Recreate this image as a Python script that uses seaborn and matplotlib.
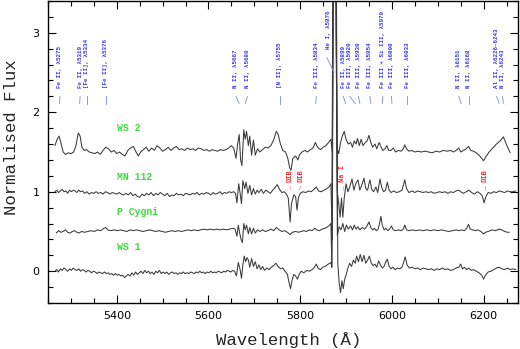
import numpy as np
import pandas as pd
import matplotlib
matplotlib.use("Agg")
import matplotlib.pyplot as plt
from matplotlib.ticker import MultipleLocator
import seaborn as sns

# ---------------- data ----------------
WS2_WAVE = [5265, 5270, 5274, 5278, 5283, 5288, 5294, 5300, 5306, 5311, 5316, 5320, 5324, 5329, 5334,
            5340, 5346, 5352, 5358, 5364, 5370, 5376, 5382, 5388, 5394, 5400, 5406, 5412, 5418, 5424,
            5430, 5436, 5442, 5447, 5452, 5458, 5464, 5470, 5476, 5482, 5488, 5494, 5500, 5506, 5512,
            5518, 5524, 5530, 5536, 5542, 5548, 5554, 5560, 5566, 5572, 5578, 5584, 5590, 5596, 5602,
            5608, 5614, 5620, 5626, 5632, 5638, 5644, 5650, 5655, 5660, 5664, 5667, 5670, 5673, 5677,
            5680, 5683, 5687, 5690, 5694, 5698, 5702, 5707, 5712, 5718, 5724, 5730, 5736, 5742, 5748,
            5752, 5757, 5762, 5768, 5773, 5777, 5780, 5784, 5790, 5795, 5798, 5804, 5810, 5816, 5822,
            5828, 5833, 5838, 5844, 5850, 5856, 5862, 5867, 5870, 5872, 5874, 5876, 5878, 5880, 5884,
            5888, 5892, 5896, 5900, 5905, 5910, 5914, 5918, 5922, 5925, 5929, 5933, 5937, 5942, 5946,
            5950, 5954, 5958, 5963, 5967, 5972, 5976, 5980, 5985, 5989, 5993, 5998, 6003, 6008, 6014,
            6020, 6025, 6028, 6032, 6037, 6043, 6050, 6057, 6064, 6072, 6080, 6088, 6096, 6104, 6112,
            6120, 6128, 6134, 6140, 6146, 6150, 6156, 6162, 6167, 6172, 6178, 6184, 6190, 6196, 6200,
            6205, 6212, 6220, 6228, 6236, 6243, 6248, 6253, 6258]
WS2_FLUX = [1.58, 1.66, 1.70, 1.62, 1.50, 1.47, 1.49, 1.48, 1.50, 1.58, 1.74, 1.70, 1.56, 1.52, 1.53,
            1.50, 1.49, 1.48, 1.50, 1.47, 1.52, 1.56, 1.54, 1.50, 1.52, 1.48, 1.50, 1.47, 1.45, 1.52,
            1.55, 1.57, 1.50, 1.45, 1.50, 1.53, 1.56, 1.51, 1.55, 1.52, 1.58, 1.55, 1.51, 1.53, 1.56,
            1.52, 1.55, 1.57, 1.53, 1.54, 1.52, 1.55, 1.53, 1.54, 1.52, 1.55, 1.54, 1.52, 1.53, 1.51,
            1.53, 1.52, 1.51, 1.53, 1.52, 1.53, 1.55, 1.58, 1.55, 1.42, 1.62, 1.72, 1.40, 1.33, 1.78,
            1.66, 1.76, 1.58, 1.70, 1.46, 1.65, 1.46, 1.54, 1.50, 1.53, 1.56, 1.55, 1.58, 1.65, 1.76,
            1.72, 1.60, 1.52, 1.50, 1.42, 1.30, 1.27, 1.42, 1.45, 1.40, 1.46, 1.50, 1.52, 1.50, 1.53,
            1.55, 1.62, 1.56, 1.53, 1.56, 1.58, 1.62, 1.66, 1.50, 3.60, 3.60, 3.60, 3.60, 1.55, 1.48,
            1.62, 1.70, 1.76, 1.66, 1.60, 1.62, 1.56, 1.64, 1.60, 1.67, 1.58, 1.66, 1.58, 1.62, 1.64,
            1.71, 1.62, 1.56, 1.60, 1.54, 1.62, 1.57, 1.52, 1.54, 1.58, 1.52, 1.52, 1.55, 1.50, 1.52,
            1.51, 1.54, 1.59, 1.54, 1.51, 1.52, 1.50, 1.51, 1.50, 1.51, 1.50, 1.49, 1.51, 1.50, 1.52,
            1.51, 1.52, 1.50, 1.52, 1.55, 1.50, 1.52, 1.54, 1.57, 1.52, 1.51, 1.49, 1.46, 1.42, 1.39,
            1.44, 1.50, 1.55, 1.60, 1.64, 1.69, 1.62, 1.55, 1.49]

MN112_WAVE = [5265, 5269, 5273, 5277, 5281, 5285, 5289, 5293, 5297, 5301, 5305, 5309, 5313, 5317, 5321,
              5325, 5330, 5335, 5340, 5345, 5350, 5355, 5360, 5365, 5370, 5375, 5380, 5385, 5390, 5395,
              5400, 5405, 5410, 5415, 5420, 5425, 5430, 5435, 5440, 5445, 5450, 5455, 5460, 5465, 5470,
              5475, 5480, 5485, 5490, 5495, 5500, 5505, 5510, 5515, 5520, 5525, 5530, 5535, 5540, 5545,
              5550, 5555, 5560, 5565, 5570, 5575, 5580, 5585, 5590, 5595, 5600, 5605, 5610, 5615, 5620,
              5625, 5630, 5635, 5640, 5645, 5650, 5655, 5659, 5662, 5666, 5669, 5672, 5675, 5679, 5682,
              5686, 5690, 5694, 5698, 5702, 5706, 5710, 5715, 5720, 5725, 5730, 5735, 5740, 5745, 5750,
              5755, 5760, 5765, 5770, 5774, 5778, 5781, 5786, 5790, 5793, 5796, 5800, 5806, 5812, 5818,
              5824, 5830, 5835, 5840, 5846, 5852, 5858, 5863, 5867, 5870, 5872, 5874, 5876, 5878, 5881,
              5884, 5887, 5890, 5893, 5896, 5900, 5904, 5908, 5913, 5917, 5921, 5926, 5930, 5934, 5939,
              5943, 5947, 5952, 5956, 5960, 5965, 5969, 5974, 5978, 5982, 5986, 5990, 5994, 5998, 6004,
              6010, 6016, 6022, 6028, 6032, 6037, 6044, 6050, 6056, 6062, 6068, 6074, 6080, 6086, 6092,
              6098, 6104, 6110, 6116, 6122, 6128, 6134, 6140, 6146, 6150, 6156, 6162, 6168, 6174, 6180,
              6186, 6192, 6197, 6201, 6205, 6210, 6216, 6222, 6228, 6234, 6240, 6246, 6252, 6258, 6264,
              6270]
MN112_FLUX = [1.00, 1.02, 0.99, 1.01, 1.03, 1.00, 1.01, 0.98, 1.02, 1.00, 1.02, 1.01, 0.99, 1.02, 1.00,
              1.01, 0.98, 1.00, 0.97, 0.99, 0.98, 1.00, 0.98, 0.99, 0.97, 1.00, 0.99, 0.97, 0.99, 0.98,
              0.97, 0.99, 0.97, 0.96, 0.98, 0.96, 0.99, 0.95, 0.97, 0.94, 0.93, 0.97, 0.95, 0.98, 0.96,
              0.99, 0.95, 0.98, 0.96, 0.99, 0.97, 0.95, 0.98, 0.94, 0.96, 0.95, 0.98, 0.96, 0.97, 0.95,
              0.98, 0.97, 0.96, 0.98, 0.97, 0.99, 0.96, 0.98, 0.97, 0.99, 0.98, 0.96, 0.99, 0.97, 0.98,
              1.00, 0.97, 0.99, 0.98, 1.00, 0.99, 1.00, 0.98, 0.86, 1.10, 0.98, 0.85, 1.14, 1.04, 1.12,
              0.98, 1.08, 0.96, 1.04, 0.97, 1.02, 0.99, 1.03, 0.98, 1.02, 1.00, 0.98, 1.02, 1.05, 1.09,
              1.03, 0.99, 1.00, 0.97, 0.92, 0.62, 0.85, 0.96, 0.94, 0.77, 0.92, 0.98, 1.00, 0.99, 1.01,
              1.00, 1.03, 1.06, 1.01, 1.00, 1.02, 1.04, 1.06, 1.10, 0.40, 3.60, 3.60, 3.60, 3.60, 1.00,
              0.85, 0.68, 0.92, 0.68, 0.92, 1.10, 1.00, 1.06, 1.16, 1.02, 1.10, 1.15, 1.02, 1.08, 1.17,
              1.04, 1.02, 1.15, 1.03, 1.00, 1.06, 0.99, 1.16, 1.05, 1.00, 1.02, 1.12, 1.02, 0.99, 1.01,
              0.99, 1.00, 1.02, 1.15, 1.04, 0.99, 1.01, 0.99, 1.01, 1.00, 0.99, 1.00, 0.99, 1.00, 0.98,
              0.99, 1.00, 0.99, 1.00, 0.98, 1.00, 0.99, 1.01, 1.02, 1.00, 0.98, 1.00, 1.02, 0.99, 0.97,
              1.00, 0.98, 0.95, 0.86, 0.94, 0.99, 0.98, 1.00, 0.99, 1.01, 1.00, 0.99, 1.01, 1.00, 1.00,
              1.01]

PCYG_WAVE = [5268, 5273, 5278, 5283, 5288, 5293, 5298, 5303, 5308, 5313, 5318, 5323, 5330, 5337, 5344,
             5351, 5358, 5365, 5372, 5376, 5380, 5387, 5394, 5401, 5408, 5415, 5422, 5429, 5436, 5443,
             5450, 5457, 5464, 5471, 5478, 5485, 5492, 5499, 5506, 5513, 5520, 5527, 5534, 5541, 5548,
             5555, 5562, 5569, 5576, 5583, 5590, 5597, 5604, 5611, 5618, 5625, 5632, 5639, 5646, 5653,
             5658, 5662, 5665, 5668, 5671, 5674, 5677, 5680, 5683, 5687, 5690, 5694, 5698, 5702, 5707,
             5712, 5718, 5724, 5730, 5736, 5742, 5748, 5754, 5760, 5766, 5772, 5778, 5783, 5790, 5796,
             5802, 5808, 5814, 5820, 5826, 5832, 5836, 5842, 5848, 5854, 5860, 5864, 5867, 5869, 5872,
             5874, 5876, 5878, 5881, 5885, 5889, 5893, 5897, 5901, 5905, 5910, 5914, 5918, 5922, 5926,
             5930, 5935, 5940, 5945, 5950, 5954, 5958, 5962, 5966, 5970, 5973, 5976, 5979, 5983, 5987,
             5991, 5995, 5999, 6003, 6008, 6014, 6020, 6025, 6028, 6032, 6038, 6045, 6052, 6060, 6068,
             6076, 6084, 6092, 6100, 6108, 6116, 6124, 6132, 6140, 6146, 6152, 6158, 6163, 6167, 6171,
             6176, 6182, 6188, 6194, 6200, 6204, 6210, 6218, 6226, 6234, 6240, 6246, 6252, 6256]
PCYG_FLUX = [0.48, 0.51, 0.49, 0.50, 0.52, 0.49, 0.48, 0.50, 0.51, 0.49, 0.48, 0.50, 0.49, 0.50, 0.51,
             0.50, 0.52, 0.51, 0.54, 0.55, 0.52, 0.51, 0.52, 0.51, 0.52, 0.51, 0.50, 0.52, 0.51, 0.52,
             0.51, 0.50, 0.51, 0.52, 0.51, 0.50, 0.51, 0.50, 0.49, 0.50, 0.51, 0.50, 0.51, 0.50, 0.51,
             0.52, 0.51, 0.52, 0.51, 0.52, 0.53, 0.52, 0.53, 0.52, 0.53, 0.52, 0.53, 0.52, 0.53, 0.54,
             0.53, 0.44, 0.58, 0.48, 0.40, 0.36, 0.60, 0.52, 0.58, 0.47, 0.55, 0.47, 0.54, 0.48, 0.52,
             0.50, 0.52, 0.50, 0.51, 0.53, 0.51, 0.55, 0.52, 0.50, 0.51, 0.49, 0.46, 0.49, 0.50, 0.49,
             0.50, 0.51, 0.50, 0.52, 0.51, 0.54, 0.52, 0.51, 0.53, 0.54, 0.56, 0.58, 0.60, 0.05, 3.60,
             3.60, 3.60, 3.60, 0.45, 0.56, 0.52, 0.60, 0.50, 0.58, 0.53, 0.57, 0.52, 0.58, 0.53, 0.56,
             0.52, 0.55, 0.53, 0.56, 0.62, 0.55, 0.52, 0.54, 0.51, 0.53, 0.60, 0.69, 0.58, 0.52, 0.54,
             0.51, 0.53, 0.57, 0.52, 0.51, 0.52, 0.51, 0.53, 0.58, 0.52, 0.51, 0.52, 0.51, 0.52, 0.51,
             0.52, 0.51, 0.52, 0.51, 0.52, 0.51, 0.50, 0.51, 0.52, 0.51, 0.52, 0.51, 0.54, 0.59, 0.53,
             0.52, 0.51, 0.52, 0.50, 0.47, 0.49, 0.50, 0.52, 0.51, 0.53, 0.52, 0.50, 0.49, 0.49]

WS1_WAVE = [5265, 5269, 5273, 5277, 5281, 5285, 5289, 5293, 5297, 5301, 5305, 5309, 5313, 5317, 5321,
            5325, 5329, 5333, 5337, 5341, 5345, 5349, 5353, 5357, 5361, 5365, 5369, 5373, 5377, 5381,
            5385, 5389, 5393, 5397, 5401, 5405, 5409, 5413, 5417, 5421, 5425, 5429, 5433, 5437, 5441,
            5445, 5449, 5453, 5457, 5461, 5465, 5469, 5473, 5477, 5481, 5485, 5489, 5493, 5497, 5501,
            5505, 5509, 5513, 5517, 5521, 5525, 5529, 5533, 5537, 5541, 5545, 5549, 5553, 5557, 5561,
            5565, 5569, 5573, 5577, 5581, 5585, 5589, 5593, 5597, 5601, 5605, 5609, 5613, 5617, 5621,
            5625, 5629, 5633, 5637, 5641, 5645, 5649, 5653, 5657, 5661, 5665, 5669, 5672, 5675, 5678,
            5681, 5684, 5687, 5690, 5694, 5698, 5702, 5706, 5710, 5714, 5718, 5722, 5727, 5732, 5737,
            5742, 5747, 5752, 5757, 5762, 5767, 5772, 5776, 5779, 5782, 5786, 5790, 5794, 5798, 5802,
            5808, 5814, 5820, 5826, 5831, 5835, 5839, 5844, 5849, 5854, 5859, 5864, 5867, 5869, 5871,
            5873, 5876, 5879, 5882, 5885, 5888, 5891, 5894, 5897, 5900, 5904, 5908, 5912, 5916, 5920,
            5923, 5927, 5931, 5935, 5939, 5943, 5947, 5951, 5955, 5959, 5963, 5967, 5971, 5975, 5979,
            5983, 5987, 5990, 5994, 5998, 6002, 6007, 6012, 6017, 6022, 6026, 6029, 6033, 6038, 6044,
            6050, 6056, 6062, 6068, 6074, 6080, 6086, 6092, 6098, 6104, 6110, 6116, 6122, 6128, 6134,
            6140, 6146, 6150, 6154, 6158, 6163, 6168, 6173, 6178, 6184, 6190, 6196, 6200, 6204, 6210,
            6216, 6222, 6228, 6234, 6240, 6246, 6252, 6258, 6264, 6270]
WS1_FLUX = [0.00, 0.02, -0.01, 0.03, 0.01, 0.04, 0.02, 0.00, 0.03, 0.01, 0.04, 0.02, 0.01, 0.03, 0.00,
            0.02, 0.01, -0.01, 0.01, 0.00, -0.02, 0.00, -0.01, -0.03, -0.01, -0.02, -0.03, -0.01, -0.03, -0.02,
            -0.04, -0.03, -0.05, -0.03, -0.05, -0.04, -0.06, -0.05, -0.08, -0.06, -0.04, -0.06, -0.02, -0.05, -0.01,
            -0.04, -0.02, 0.00, -0.03, 0.01, -0.02, 0.00, -0.03, -0.01, -0.04, 0.00, -0.02, 0.01, -0.03, -0.01,
            -0.03, -0.01, -0.04, -0.02, -0.01, -0.03, -0.02, -0.04, -0.02, -0.03, -0.01, -0.03, -0.02, -0.03, -0.01,
            -0.02, -0.03, -0.01, -0.02, 0.00, -0.02, -0.01, -0.03, -0.01, -0.02, 0.00, -0.02, -0.01, -0.02, 0.00,
            -0.01, -0.02, 0.00, -0.01, 0.01, 0.00, -0.01, 0.01, 0.00, -0.06, 0.11, 0.02, -0.09, 0.08, 0.19,
            0.12, 0.17, 0.14, 0.05, 0.16, 0.06, 0.12, 0.03, 0.08, 0.02, 0.06, 0.01, 0.04, 0.02, 0.05,
            0.07, 0.10, 0.06, 0.03, 0.04, 0.00, -0.04, -0.15, -0.22, -0.12, -0.04, -0.06, -0.10, -0.04, 0.00,
            -0.02, 0.01, 0.00, 0.02, 0.05, 0.09, 0.04, 0.02, 0.05, 0.06, 0.08, 0.10, 0.11, 0.05, 3.60,
            3.60, 3.60, 3.60, 0.10, -0.15, -0.27, -0.12, -0.22, -0.10, -0.05, 0.04, 0.10, 0.06, 0.14, 0.10,
            0.19, 0.12, 0.21, 0.12, 0.20, 0.10, 0.14, 0.19, 0.10, 0.07, 0.09, 0.05, 0.13, 0.08, 0.04,
            0.06, 0.12, 0.15, 0.06, 0.03, 0.05, 0.02, 0.04, 0.03, 0.05, 0.12, 0.18, 0.08, 0.04, 0.05,
            0.03, 0.04, 0.02, 0.04, 0.03, 0.02, 0.03, 0.01, 0.03, 0.02, 0.04, 0.02, 0.03, 0.01, 0.02,
            0.04, 0.05, 0.09, 0.03, 0.05, 0.02, 0.04, 0.01, 0.02, 0.00, -0.02, -0.05, -0.10, -0.05, -0.01,
            0.00, 0.02, 0.04, 0.05, 0.03, 0.02, 0.04, 0.02, 0.03, 0.02]

STAR_NAMES = ["WS 2", "MN 112", "P Cygni", "WS 1"]
STAR_LABEL_Y = [1.80, 1.19, 0.74, 0.30]

# identified lines: label text, label wavelength (where text sits), line wavelength
LINE_TEXTS = ["Fe II, λ5275", "Fe II, λ5319", "[Fe II], λ5334", "[Fe II], λ5376",
              "N II, λ5667", "N II, λ5680", "[N II], λ5755", "Fe III, λ5834",
              "Fe II, λ5899", "Fe III, λ5920", "Fe III, λ5930", "Fe III, λ5954",
              "Fe III + Si III, λ5979", "Fe III, λ6000", "Fe III, λ6033",
              "N II, λ6151", "N II, λ6168", "Al II, λ6226–6243", "N II, λ6243"]
LINE_LABEL_WAVE = [5276, 5320, 5334, 5376, 5660, 5685, 5755, 5835, 5894, 5908, 5927,
                   5952, 5980, 5999, 6033, 6146, 6168, 6228, 6241]
LINE_WAVE = [5275, 5319, 5334, 5376, 5667, 5680, 5755, 5834, 5899, 5920, 5930,
             5954, 5979, 6000, 6033, 6151, 6168, 6234, 6243]
HEI_TEXT = "He I, λ5876"
HEI_LABEL_WAVE = 5861
HEI_WAVE = 5874

# interstellar features (red)
IS_TEXTS = ["DIB", "DIB", "Na I", "DIB"]
IS_LABEL_WAVE = [5778, 5802, 5893, 6203]
IS_WAVE = [5780, 5797, 5893, 6203]

# ---------------- plotting ----------------
frames = []
for name, w, f in zip(STAR_NAMES, [WS2_WAVE, MN112_WAVE, PCYG_WAVE, WS1_WAVE],
                      [WS2_FLUX, MN112_FLUX, PCYG_FLUX, WS1_FLUX]):
    frames.append(pd.DataFrame({"wave": w, "flux": f, "star": name}))
df = pd.concat(frames, ignore_index=True)

sns.set_style("ticks")
plt.rcParams["font.family"] = ["DejaVu Sans"]

fig = plt.figure(figsize=(5.2, 3.49), dpi=100)
ax = fig.add_axes([48 / 520, 46 / 349, 470 / 520, 302 / 349])

sns.lineplot(data=df, x="wave", y="flux", units="star", estimator=None, sort=False,
             color="#3a3a3a", linewidth=0.75, ax=ax, legend=False)

ax.set_xlim(5250, 6275)
ax.set_ylim(-0.4, 3.4)
ax.xaxis.set_major_locator(MultipleLocator(200))
ax.xaxis.set_minor_locator(MultipleLocator(50))
ax.yaxis.set_major_locator(MultipleLocator(1))
ax.yaxis.set_minor_locator(MultipleLocator(0.2))
ax.tick_params(which="both", direction="in", top=True, right=True, width=0.8, colors="black")
ax.tick_params(which="major", length=6, labelsize=8, pad=6)
ax.tick_params(which="minor", length=3.5)
for s in ax.spines.values():
    s.set_linewidth(1.0)
    s.set_color("black")

mono = ["Liberation Mono", "DejaVu Sans Mono"]
ax.set_xlabel("Wavelength (Å)", family=mono, fontsize=12.5)
ax.set_ylabel("Normalised Flux", family=mono, fontsize=12.5)
ax.xaxis.label.set_verticalalignment("center")
ax.xaxis.set_label_coords(0.513, -0.123)
ax.yaxis.label.set_verticalalignment("center")
ax.yaxis.set_label_coords(-0.077, 0.55)

# star names
for name, yv in zip(STAR_NAMES, STAR_LABEL_Y):
    ax.text(5400, yv, name, color="#3fdc3f", family=mono, fontweight="bold",
            fontsize=7, ha="left", va="center")

# identified line labels
blue = "#3535ee"
tick_col = "#8c9ad6"
for txt, lw_, lx in zip(LINE_TEXTS, LINE_LABEL_WAVE, LINE_WAVE):
    ax.text(lw_, 2.30, txt, rotation=90, ha="center", va="bottom", color=blue,
            family=mono, fontweight="bold", fontsize=4.2)
    ax.plot([lw_, lx], [2.20, 2.11], color=tick_col, lw=0.7)
ax.text(HEI_LABEL_WAVE, 2.80, HEI_TEXT, rotation=90, ha="center", va="bottom", color=blue,
        family=mono, fontweight="bold", fontsize=4.2)
ax.plot([HEI_LABEL_WAVE - 3, HEI_WAVE], [2.69, 2.50], color=tick_col, lw=0.7)

# interstellar labels
red = "#ff2a2a"
for txt, lw_, lx in zip(IS_TEXTS, IS_LABEL_WAVE, IS_WAVE):
    ax.text(lw_, 1.12, txt, rotation=90, ha="center", va="bottom", color=red,
            family=mono, fontweight="bold", fontsize=5)
    ax.plot([lw_, lx], [1.07, 1.02], color="#ff9a9a", lw=0.6)

fig.savefig("out.png", dpi=100)
